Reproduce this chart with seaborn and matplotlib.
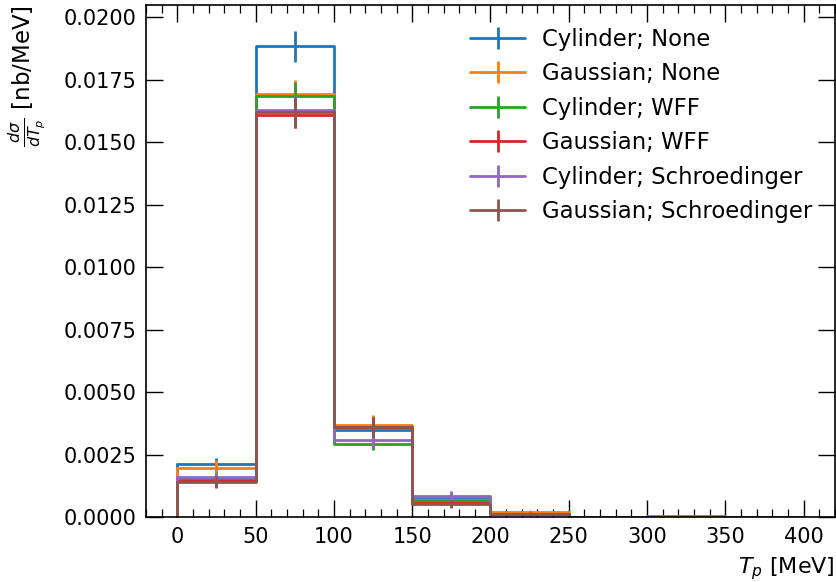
import numpy as np
import pandas as pd
import matplotlib
matplotlib.use("Agg")
import matplotlib.pyplot as plt
from matplotlib.lines import Line2D
from matplotlib.ticker import MultipleLocator, NullLocator, FormatStrFormatter
import seaborn as sns

# ---- data ----
bin_edges = [0, 50, 100, 150, 200, 250, 300, 350, 400]
labels = ["Cylinder; None", "Gaussian; None", "Cylinder; WFF",
          "Gaussian; WFF", "Cylinder; Schroedinger", "Gaussian; Schroedinger"]

cyl_none = [0.00212, 0.01885, 0.00350, 0.00080, 0.00015, 0.00002, 0.00002, 0.00001]
gau_none = [0.00198, 0.01692, 0.00368, 0.00060, 0.00022, 0.00002, 0.00001, 0.00001]
cyl_wff = [0.00152, 0.01684, 0.00293, 0.00069, 0.00012, 0.00002, 0.00002, 0.00001]
gau_wff = [0.00145, 0.01608, 0.00362, 0.00056, 0.00014, 0.00002, 0.00001, 0.00001]
cyl_sch = [0.00160, 0.01629, 0.00309, 0.00085, 0.00013, 0.00003, 0.00004, 0.00001]
gau_sch = [0.00142, 0.01620, 0.00360, 0.00053, 0.00013, 0.00002, 0.00001, 0.00001]

cyl_none_err = [0.00025, 0.00062, 0.00035, 0.00018, 0.00006, 0.00002, 0.00002, 0.00001]
gau_none_err = [0.00030, 0.00058, 0.00040, 0.00015, 0.00008, 0.00002, 0.00001, 0.00001]
cyl_wff_err = [0.00022, 0.00058, 0.00024, 0.00016, 0.00005, 0.00002, 0.00002, 0.00001]
gau_wff_err = [0.00022, 0.00052, 0.00038, 0.00014, 0.00006, 0.00002, 0.00001, 0.00001]
cyl_sch_err = [0.00022, 0.00060, 0.00028, 0.00022, 0.00005, 0.00002, 0.00003, 0.00001]
gau_sch_err = [0.00025, 0.00062, 0.00040, 0.00015, 0.00005, 0.00002, 0.00001, 0.00001]

series = [cyl_none, gau_none, cyl_wff, gau_wff, cyl_sch, gau_sch]
errors = [cyl_none_err, gau_none_err, cyl_wff_err, gau_wff_err, cyl_sch_err, gau_sch_err]

# ---- plot ----
sns.set_style("ticks")
plt.rcParams["font.family"] = ["DejaVu Sans"]
plt.rcParams["mathtext.fontset"] = "dejavusans"
for k in ["text.color", "axes.labelcolor", "xtick.color", "ytick.color", "axes.edgecolor"]:
    plt.rcParams[k] = "black"

colors = sns.color_palette("tab10", 6)
centers = [(a + b) / 2 for a, b in zip(bin_edges[:-1], bin_edges[1:])]

fig = plt.figure(figsize=(8.36, 5.82), dpi=100)
ax = fig.add_axes([0.1746, 0.1112, 0.8242, 0.8802])

handles = []
for lab, vals, errs, c in zip(labels, series, errors, colors):
    df = pd.DataFrame({"x": centers, "w": vals})
    sns.histplot(data=df, x="x", weights="w", bins=bin_edges, element="step",
                 fill=False, color=c, linewidth=2, ax=ax)
    # closing vertical edges of the step outline down to zero
    ax.plot([bin_edges[0], bin_edges[0]], [0, vals[0]], color=c, lw=2)
    ax.plot([bin_edges[-1], bin_edges[-1]], [0, vals[-1]], color=c, lw=2)
    ax.errorbar(centers, vals, yerr=errs, fmt="none", ecolor=c, elinewidth=2)
    handles.append(Line2D([], [], color=c, lw=2, marker="|", markersize=16,
                          markeredgewidth=2, label=lab))

ax.set_xlim(-20, 420)
ax.set_ylim(0, 0.0205)
ax.xaxis.set_major_locator(MultipleLocator(50))
ax.xaxis.set_minor_locator(MultipleLocator(10))
ax.yaxis.set_major_locator(MultipleLocator(0.0025))
ax.yaxis.set_minor_locator(NullLocator())
ax.yaxis.set_major_formatter(FormatStrFormatter("%.4f"))
ax.tick_params(which="both", direction="in", top=True, right=True, labelsize=15, pad=7)
ax.tick_params(which="major", length=12, width=1.0)
ax.tick_params(which="minor", length=6, width=0.9)
for s in ax.spines.values():
    s.set_linewidth(1.2)

ax.set_xlabel(r"$T_p$ [MeV]", fontsize=16, ha="right", x=1.0, labelpad=6)
ax.set_ylabel(r"$\frac{d\sigma}{dT_p}$ [nb/MeV]", fontsize=16.5, ha="right", y=1.0,
              labelpad=12)

ax.legend(handles=handles, loc="upper right", frameon=False, fontsize=16.4,
          handlelength=2.4, handletextpad=0.75, labelspacing=0.5,
          bbox_to_anchor=(0.997, 0.995))

fig.savefig("out.png", dpi=100)
